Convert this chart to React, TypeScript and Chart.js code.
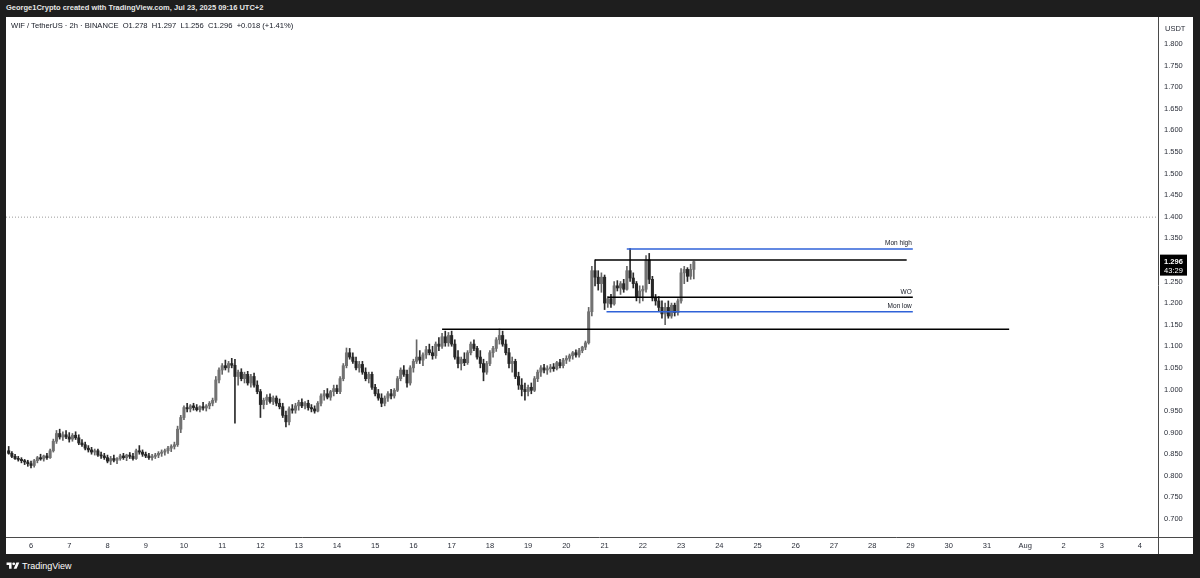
import React, { useEffect, useRef } from 'react';
import { Chart, registerables } from 'chart.js';

Chart.register(...registerables);

// ---------- DATA ----------
// WIF / TetherUS, 2h candles, Jul 5 10:00 -> Jul 23 08:00 (UTC+2); x unit = day of July
const firstCandleDay = 5 + 10 / 24;
const candleStepDays = 2 / 24;

const opens = [
  0.858, 0.852, 0.845, 0.840, 0.838, 0.835, 0.832, // Jul 5
  0.828, 0.824, 0.835, 0.842, 0.839, 0.846, 0.842, 0.858, 0.880, 0.898, 0.890, 0.895, // Jul 6
  0.890, 0.885, 0.894, 0.888, 0.876, 0.872, 0.864, 0.860, 0.855, 0.858, 0.848, 0.846, // Jul 7
  0.842, 0.834, 0.840, 0.836, 0.840, 0.846, 0.842, 0.848, 0.845, 0.840, 0.858, 0.855, // Jul 8
  0.850, 0.846, 0.842, 0.845, 0.848, 0.852, 0.855, 0.858, 0.864, 0.868, 0.872, 0.908, // Jul 9
  0.935, 0.958, 0.955, 0.962, 0.958, 0.953, 0.960, 0.957, 0.962, 0.968, 0.975, 1.022, // Jul 10
  1.045, 1.055, 1.050, 1.060, 1.056, 1.030, 1.040, 1.025, 1.035, 1.015, 1.030, 1.010, // Jul 11
  0.995, 0.965, 0.975, 0.982, 0.972, 0.980, 0.968, 0.960, 0.940, 0.925, 0.955, 0.952, // Jul 12
  0.962, 0.970, 0.962, 0.968, 0.958, 0.955, 0.950, 0.968, 0.985, 0.990, 0.982, 0.995, // Jul 13
  1.002, 0.995, 1.025, 1.055, 1.085, 1.075, 1.065, 1.050, 1.058, 1.040, 1.025, 1.035, // Jul 14
  1.005, 0.990, 0.980, 0.968, 0.980, 0.990, 0.985, 0.998, 1.025, 1.045, 1.035, 1.015, // Jul 15
  1.050, 1.065, 1.075, 1.068, 1.080, 1.092, 1.085, 1.078, 1.105, 1.100, 1.122, 1.108, // Jul 16
  1.125, 1.105, 1.075, 1.060, 1.070, 1.062, 1.085, 1.105, 1.095, 1.075, 1.060, 1.040, // Jul 17
  1.060, 1.085, 1.095, 1.115, 1.125, 1.105, 1.085, 1.060, 1.065, 1.030, 1.010, 1.000, // Jul 18
  0.995, 1.005, 0.998, 1.025, 1.040, 1.050, 1.045, 1.048, 1.052, 1.048, 1.062, 1.055, // Jul 19
  1.068, 1.072, 1.078, 1.085, 1.080, 1.090, 1.098, 1.108, 1.180, 1.275, 1.260, 1.245, // Jul 20
  1.260, 1.200, 1.210, 1.198, 1.240, 1.235, 1.245, 1.232, 1.275, 1.258, 1.245, 1.215, // Jul 21
  1.228, 1.232, 1.300, 1.255, 1.212, 1.205, 1.190, 1.175, 1.190, 1.170, 1.195, 1.178, // Jul 22
  1.205, 1.270, 1.278, 1.262, 1.278, // Jul 23
];

const highs = [
  0.868, 0.856, 0.850, 0.845, 0.842, 0.838, 0.836,
  0.834, 0.838, 0.845, 0.850, 0.848, 0.852, 0.862, 0.885, 0.905, 0.908, 0.902, 0.905,
  0.900, 0.898, 0.902, 0.895, 0.884, 0.878, 0.870, 0.866, 0.862, 0.862, 0.855, 0.852,
  0.848, 0.845, 0.848, 0.842, 0.850, 0.852, 0.850, 0.854, 0.852, 0.862, 0.870, 0.860,
  0.855, 0.852, 0.850, 0.852, 0.856, 0.860, 0.862, 0.868, 0.872, 0.878, 0.915, 0.940,
  0.962, 0.968, 0.965, 0.968, 0.965, 0.962, 0.970, 0.965, 0.972, 0.980, 1.030, 1.050,
  1.060, 1.068, 1.065, 1.072, 1.070, 1.045, 1.048, 1.040, 1.042, 1.035, 1.038, 1.020,
  1.000, 0.980, 0.988, 0.990, 0.985, 0.985, 0.978, 0.968, 0.950, 0.960, 0.965, 0.968,
  0.975, 0.978, 0.972, 0.975, 0.965, 0.962, 0.972, 0.990, 0.998, 1.002, 0.998, 1.010,
  1.010, 1.030, 1.060, 1.096, 1.095, 1.085, 1.075, 1.065, 1.065, 1.050, 1.040, 1.040,
  1.012, 1.000, 0.990, 0.985, 0.995, 1.000, 1.002, 1.030, 1.050, 1.055, 1.045, 1.055,
  1.070, 1.115, 1.090, 1.085, 1.100, 1.105, 1.100, 1.110, 1.120, 1.130, 1.135, 1.132,
  1.135, 1.115, 1.090, 1.075, 1.085, 1.090, 1.110, 1.115, 1.100, 1.090, 1.070, 1.065,
  1.090, 1.100, 1.120, 1.140, 1.135, 1.115, 1.095, 1.075, 1.070, 1.040, 1.025, 1.015,
  1.010, 1.015, 1.030, 1.045, 1.055, 1.058, 1.055, 1.058, 1.060, 1.065, 1.070, 1.072,
  1.078, 1.082, 1.088, 1.092, 1.095, 1.100, 1.112, 1.190, 1.285, 1.300, 1.275, 1.270,
  1.265, 1.215, 1.220, 1.250, 1.252, 1.250, 1.255, 1.285, 1.326, 1.270, 1.250, 1.240,
  1.240, 1.310, 1.315, 1.262, 1.220, 1.215, 1.205, 1.200, 1.205, 1.200, 1.200, 1.210,
  1.280, 1.285, 1.282, 1.290, 1.297,
];

const lows = [
  0.850, 0.842, 0.838, 0.834, 0.830, 0.826, 0.822,
  0.818, 0.820, 0.830, 0.836, 0.834, 0.838, 0.840, 0.855, 0.875, 0.885, 0.882, 0.886,
  0.878, 0.880, 0.884, 0.872, 0.868, 0.860, 0.855, 0.850, 0.848, 0.845, 0.840, 0.838,
  0.830, 0.826, 0.832, 0.828, 0.836, 0.838, 0.835, 0.840, 0.836, 0.838, 0.850, 0.845,
  0.842, 0.838, 0.836, 0.840, 0.842, 0.845, 0.848, 0.852, 0.856, 0.862, 0.868, 0.900,
  0.930, 0.948, 0.948, 0.952, 0.950, 0.948, 0.952, 0.950, 0.955, 0.962, 0.970, 1.015,
  1.035, 1.045, 1.040, 1.050, 0.922, 1.010, 1.020, 1.015, 1.010, 1.005, 1.005, 0.990,
  0.935, 0.955, 0.965, 0.968, 0.965, 0.962, 0.955, 0.935, 0.913, 0.918, 0.945, 0.945,
  0.952, 0.958, 0.955, 0.952, 0.948, 0.945, 0.948, 0.962, 0.975, 0.978, 0.975, 0.985,
  0.990, 0.990, 1.020, 1.050, 1.070, 1.060, 1.045, 1.040, 1.035, 1.020, 1.015, 1.000,
  0.985, 0.975, 0.960, 0.962, 0.972, 0.978, 0.980, 0.995, 1.020, 1.030, 1.005, 1.010,
  1.040, 1.060, 1.060, 1.055, 1.072, 1.080, 1.070, 1.072, 1.090, 1.095, 1.100, 1.100,
  1.100, 1.070, 1.050, 1.045, 1.055, 1.058, 1.080, 1.090, 1.070, 1.050, 1.020, 1.035,
  1.055, 1.075, 1.088, 1.105, 1.100, 1.080, 1.050, 1.040, 1.025, 1.000, 0.985, 0.975,
  0.985, 0.990, 0.995, 1.018, 1.030, 1.038, 1.035, 1.040, 1.042, 1.045, 1.050, 1.050,
  1.060, 1.065, 1.070, 1.075, 1.075, 1.085, 1.092, 1.105, 1.170, 1.240, 1.230, 1.225,
  1.185, 1.190, 1.190, 1.195, 1.228, 1.220, 1.225, 1.230, 1.250, 1.235, 1.205, 1.200,
  1.205, 1.225, 1.245, 1.205, 1.195, 1.180, 1.165, 1.150, 1.165, 1.165, 1.170, 1.172,
  1.200, 1.245, 1.250, 1.255, 1.256,
];

const closes = [
  0.852, 0.845, 0.840, 0.838, 0.835, 0.832, 0.828,
  0.824, 0.835, 0.842, 0.839, 0.846, 0.842, 0.858, 0.880, 0.898, 0.890, 0.895, 0.890,
  0.885, 0.894, 0.888, 0.876, 0.872, 0.864, 0.860, 0.855, 0.858, 0.848, 0.846, 0.842,
  0.834, 0.840, 0.836, 0.840, 0.846, 0.842, 0.848, 0.845, 0.840, 0.858, 0.855, 0.850,
  0.846, 0.842, 0.845, 0.848, 0.852, 0.855, 0.858, 0.864, 0.868, 0.872, 0.908, 0.935,
  0.958, 0.955, 0.962, 0.958, 0.953, 0.960, 0.957, 0.962, 0.968, 0.975, 1.022, 1.045,
  1.055, 1.050, 1.060, 1.056, 1.030, 1.040, 1.025, 1.035, 1.015, 1.030, 1.010, 0.995,
  0.965, 0.975, 0.982, 0.972, 0.980, 0.968, 0.960, 0.940, 0.925, 0.955, 0.952, 0.962,
  0.970, 0.962, 0.968, 0.958, 0.955, 0.950, 0.968, 0.985, 0.990, 0.982, 0.995, 1.002,
  0.995, 1.025, 1.055, 1.085, 1.075, 1.065, 1.050, 1.058, 1.040, 1.025, 1.035, 1.005,
  0.990, 0.980, 0.968, 0.980, 0.990, 0.985, 0.998, 1.025, 1.045, 1.035, 1.015, 1.050,
  1.065, 1.075, 1.068, 1.080, 1.092, 1.085, 1.078, 1.105, 1.100, 1.122, 1.108, 1.125,
  1.105, 1.075, 1.060, 1.070, 1.062, 1.085, 1.105, 1.095, 1.075, 1.060, 1.040, 1.060,
  1.085, 1.095, 1.115, 1.125, 1.105, 1.085, 1.060, 1.065, 1.030, 1.010, 1.000, 0.995,
  1.005, 0.998, 1.025, 1.040, 1.050, 1.045, 1.048, 1.052, 1.048, 1.062, 1.055, 1.068,
  1.072, 1.078, 1.085, 1.080, 1.090, 1.098, 1.108, 1.180, 1.275, 1.260, 1.245, 1.260,
  1.200, 1.210, 1.198, 1.240, 1.235, 1.245, 1.232, 1.275, 1.258, 1.245, 1.215, 1.228,
  1.232, 1.300, 1.255, 1.212, 1.205, 1.190, 1.175, 1.190, 1.170, 1.195, 1.178, 1.205,
  1.270, 1.278, 1.262, 1.278, 1.296,
];

// axis ticks (x: day of July; 32.. = August)
const xTickValues = [6, 7, 8, 9, 10, 11, 12, 13, 14, 15, 16, 17, 18, 19, 20, 21, 22, 23, 24, 25, 26, 27, 28, 29, 30, 31, 32, 33, 34, 35];
const xTickLabels = ['6', '7', '8', '9', '10', '11', '12', '13', '14', '15', '16', '17', '18', '19', '20', '21', '22', '23', '24', '25', '26', '27', '28', '29', '30', '31', 'Aug', '2', '3', '4'];
const yTickValues = [0.70, 0.75, 0.80, 0.85, 0.90, 0.95, 1.00, 1.05, 1.10, 1.15, 1.20, 1.25, 1.30, 1.35, 1.40, 1.45, 1.50, 1.55, 1.60, 1.65, 1.70, 1.75, 1.80];
const yTickLabels = ['0.700', '0.750', '0.800', '0.850', '0.900', '0.950', '1.000', '1.050', '1.100', '1.150', '1.200', '1.250', '1.300', '1.350', '1.400', '1.450', '1.500', '1.550', '1.600', '1.650', '1.700', '1.750', '1.800'];

// visible range
const xMin = 5.3462;
const xMax = 35.472;
const yMin = 0.6583;
const yMax = 1.8625;

// horizontal level drawings
const levelNames = ['', 'Mon high', '', 'WO', 'Mon low', ''];
const levelPrices = [1.399, 1.3255, 1.300, 1.2135, 1.180, 1.1395];
const levelStarts = [xMin, 21.58, 20.75, 21.08, 21.05, 16.75];
const levelEnds = [xMax, 29.06, 28.9, 29.06, 29.06, 31.58];

const titleText = 'George1Crypto created with TradingView.com, Jul 23, 2025 09:16 UTC+2';
const symbolText = 'WIF / TetherUS · 2h · BINANCE';
const ohlcText = 'O1.278  H1.297  L1.256  C1.296  +0.018 (+1.41%)';
const currencyText = 'USDT';
const countdownText = '43:29';

// ---------- STYLES ----------
const UP_BODY = '#727272';
const DOWN_BODY = '#262626';
const UP_WICK = '#666666';
const DOWN_WICK = '#2a2a2a';
const BLUE = '#2f62d8';
const levelStyles = [
  { color: '#9a9a9a', width: 1, dash: [1, 2] },
  { color: BLUE, width: 1.5, dash: [] },
  { color: '#000000', width: 1.5, dash: [] },
  { color: '#000000', width: 1.5, dash: [] },
  { color: BLUE, width: 1.5, dash: [] },
  { color: '#000000', width: 1.5, dash: [] },
];
const FONT = '"Liberation Sans", Arial, sans-serif';

const overlayPlugin = {
  id: 'tvOverlay',
  afterDatasetsDraw(chart: any) {
    const { ctx, scales } = chart;
    const x = scales.x;
    const y = scales.y;
    ctx.save();
    ctx.font = `6.5px ${FONT}`;
    ctx.fillStyle = '#131722';
    ctx.textAlign = 'right';
    ctx.textBaseline = 'bottom';
    levelNames.forEach((name, i) => {
      if (!name) return;
      ctx.fillText(name, x.getPixelForValue(levelEnds[i]) - 1, y.getPixelForValue(levelPrices[i]) - 2);
    });
    ctx.restore();
  },
  afterDraw(chart: any) {
    const { ctx, chartArea, scales } = chart;
    const y = scales.y;
    ctx.save();
    ctx.strokeStyle = '#4a4a4a';
    ctx.lineWidth = 1;
    const rx = Math.round(chartArea.right) + 0.5;
    const by = Math.round(chartArea.bottom) + 0.5;
    ctx.beginPath();
    ctx.moveTo(rx, 0);
    ctx.lineTo(rx, chart.height);
    ctx.moveTo(0, by);
    ctx.lineTo(chart.width, by);
    ctx.stroke();

    // last price box
    const last = closes[closes.length - 1];
    const py = y.getPixelForValue(last);
    ctx.fillStyle = '#000000';
    ctx.fillRect(chartArea.right + 2, py - 7, 27, 21);
    ctx.fillStyle = '#ffffff';
    ctx.textAlign = 'center';
    ctx.textBaseline = 'middle';
    ctx.font = `bold 7.5px ${FONT}`;
    ctx.fillText(last.toFixed(3), chartArea.right + 15.5, py);
    ctx.font = `7.5px ${FONT}`;
    ctx.fillText(countdownText, chartArea.right + 15.5, py + 9);
    ctx.restore();
  },
};

export default function App() {
  const canvasRef = useRef<HTMLCanvasElement | null>(null);

  useEffect(() => {
    if (!canvasRef.current) return;
    const times = opens.map((_, i) => firstCandleDay + i * candleStepDays);
    const up = closes.map((c, i) => c >= opens[i]);

    const levelDatasets = levelPrices.map((p, i) => ({
      type: 'line' as const,
      data: [
        { x: levelStarts[i], y: p },
        { x: levelEnds[i], y: p },
      ],
      borderColor: levelStyles[i].color,
      borderWidth: levelStyles[i].width,
      borderDash: levelStyles[i].dash,
      pointRadius: 0,
      fill: false,
      order: 0,
    }));

    const chart = new Chart(canvasRef.current, {
      type: 'bar',
      data: {
        datasets: [
          {
            type: 'bar',
            data: times.map((t, i) => ({ x: t, y: [lows[i], highs[i]] })) as any,
            backgroundColor: up.map((u) => (u ? UP_WICK : DOWN_WICK)),
            barThickness: 1,
            grouped: false,
            order: 3,
          },
          {
            type: 'bar',
            data: times.map((t, i) => ({ x: t, y: [Math.min(opens[i], closes[i]), Math.max(opens[i], closes[i])] })) as any,
            backgroundColor: up.map((u) => (u ? UP_BODY : DOWN_BODY)),
            barThickness: 2.4,
            minBarLength: 1,
            grouped: false,
            order: 2,
          },
          ...(levelDatasets as any[]),
        ],
      },
      options: {
        animation: false,
        responsive: false,
        devicePixelRatio: 1,
        events: [],
        layout: { padding: 0 },
        plugins: { legend: { display: false }, tooltip: { enabled: false }, title: { display: false } },
        scales: {
          x: {
            type: 'linear',
            min: xMin,
            max: xMax,
            offset: false,
            grid: { display: false, drawTicks: false, offset: false },
            border: { display: false },
            afterBuildTicks: (s: any) => {
              s.ticks = xTickValues.map((v) => ({ value: v }));
            },
            afterFit: (s: any) => {
              s.height = 17;
              s.paddingLeft = 0;
              s.paddingRight = 0;
            },
            ticks: {
              autoSkip: false,
              maxRotation: 0,
              padding: 4,
              color: '#2a2e39',
              font: { family: FONT, size: 7.5 },
              callback: (v: any) => {
                const idx = xTickValues.indexOf(Number(v));
                return idx >= 0 ? xTickLabels[idx] : '';
              },
            },
          },
          y: {
            type: 'linear',
            position: 'right',
            min: yMin,
            max: yMax,
            grid: { display: false, drawTicks: false },
            border: { display: false },
            afterBuildTicks: (s: any) => {
              s.ticks = yTickValues.map((v) => ({ value: v }));
            },
            afterFit: (s: any) => {
              s.width = 35;
              s.paddingTop = 0;
              s.paddingBottom = 0;
            },
            ticks: {
              autoSkip: false,
              padding: 6,
              color: '#2a2e39',
              font: { family: FONT, size: 7.5 },
              callback: (v: any) => {
                const idx = yTickValues.findIndex((t) => Math.abs(t - Number(v)) < 1e-6);
                return idx >= 0 ? yTickLabels[idx] : '';
              },
            },
          },
        },
      },
      plugins: [overlayPlugin],
    } as any);

    return () => chart.destroy();
  }, []);

  return (
    <div
      style={{
        position: 'fixed',
        left: 0,
        top: 0,
        width: 1200,
        height: 578,
        background: '#1e1e1e',
        overflow: 'hidden',
        fontFamily: FONT,
      }}
    >
      <div
        style={{
          position: 'absolute',
          left: 6,
          top: 3,
          fontSize: 7.5,
          fontWeight: 'bold',
          lineHeight: '10px',
          color: '#e6e6e6',
          whiteSpace: 'nowrap',
        }}
      >
        {titleText}
      </div>
      <div style={{ position: 'absolute', left: 6, top: 17, width: 1187, height: 537, background: '#ffffff' }}>
        <canvas
          ref={canvasRef}
          width={1187}
          height={537}
          style={{ position: 'absolute', left: 0, top: 0, width: 1187, height: 537 }}
        />
        <div
          style={{
            position: 'absolute',
            left: 5,
            top: 4,
            fontSize: 7.6,
            lineHeight: '10px',
            color: '#131722',
            whiteSpace: 'pre',
          }}
        >
          {symbolText + '  ' + ohlcText}
        </div>
        <div
          style={{
            position: 'absolute',
            left: 1159,
            top: 7,
            fontSize: 7.5,
            lineHeight: '10px',
            color: '#2a2e39',
          }}
        >
          {currencyText}
        </div>
      </div>
      <div style={{ position: 'absolute', left: 6, top: 561, display: 'flex', alignItems: 'center' }}>
        <svg width="14" height="10" viewBox="0 0 36 28">
          <path d="M14 22H7V11H0V4h14v18z" fill="#ffffff" />
          <circle cx="20" cy="8" r="4" fill="#ffffff" />
          <path d="M28 22h-8l7.5-18h8L28 22z" fill="#ffffff" />
        </svg>
        <span style={{ marginLeft: 2, fontSize: 9, color: '#ffffff', lineHeight: '10px' }}>TradingView</span>
      </div>
    </div>
  );
}
